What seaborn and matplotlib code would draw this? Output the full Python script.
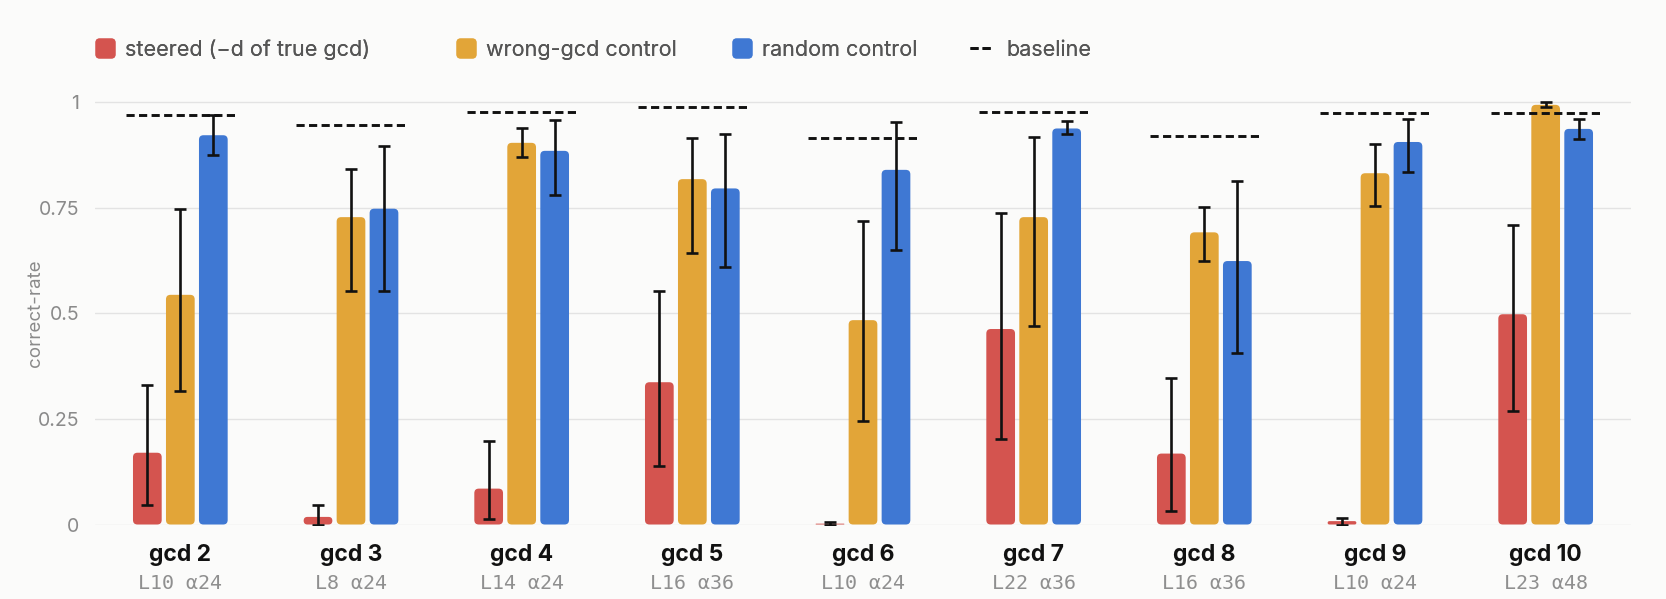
import numpy as np
import pandas as pd
import matplotlib
matplotlib.use("Agg")
import matplotlib.pyplot as plt
import seaborn as sns
from matplotlib.patches import FancyBboxPatch
from matplotlib.lines import Line2D

# ---------------- data ----------------
gcd_labels = ["gcd 2", "gcd 3", "gcd 4", "gcd 5", "gcd 6", "gcd 7", "gcd 8", "gcd 9", "gcd 10"]
config_labels = ["L10 α24", "L8 α24", "L14 α24", "L16 α36", "L10 α24",
                 "L22 α36", "L16 α36", "L10 α24", "L23 α48"]
series_names = ["steered (−d of true gcd)", "wrong-gcd control", "random control"]
baseline_name = "baseline"

steered = [0.170, 0.018, 0.085, 0.337, 0.002, 0.463, 0.168, 0.008, 0.498]
steered_lo = [0.046, 0.000, 0.012, 0.138, 0.000, 0.203, 0.032, 0.000, 0.270]
steered_hi = [0.330, 0.046, 0.198, 0.552, 0.007, 0.737, 0.346, 0.015, 0.709]

wrong = [0.544, 0.728, 0.904, 0.818, 0.484, 0.728, 0.692, 0.832, 0.994]
wrong_lo = [0.317, 0.552, 0.870, 0.644, 0.244, 0.470, 0.623, 0.754, 0.988]
wrong_hi = [0.747, 0.842, 0.938, 0.915, 0.719, 0.917, 0.752, 0.901, 1.000]

random_ctl = [0.922, 0.748, 0.885, 0.796, 0.840, 0.938, 0.624, 0.906, 0.937]
random_lo = [0.874, 0.552, 0.780, 0.611, 0.650, 0.924, 0.407, 0.835, 0.913]
random_hi = [0.971, 0.896, 0.959, 0.925, 0.954, 0.956, 0.814, 0.961, 0.960]

baseline = [0.971, 0.947, 0.978, 0.988, 0.915, 0.978, 0.919, 0.975, 0.975]

ytick_values = [0, 0.25, 0.5, 0.75, 1]
ytick_labels = ["0", "0.25", "0.5", "0.75", "1"]
y_label = "correct-rate"

# ---------------- style ----------------
colors = ["#d4544f", "#e2a538", "#3f78d3"]
BG = "#fbfbfa"
GRID = "#e3e3e3"
INK = "#111111"
FIG_W, FIG_H = 1666, 599

sns.set_theme(style="whitegrid")
plt.rcParams["font.family"] = ["Inter", "DejaVu Sans"]

df = pd.DataFrame({
    "gcd": gcd_labels * 3,
    "series": np.repeat(series_names, len(gcd_labels)),
    "rate": steered + wrong + random_ctl,
})

fig = plt.figure(figsize=(FIG_W / 100, FIG_H / 100), dpi=100, facecolor=BG)
ax = fig.add_axes([0.05702, 0.12437, 0.92197, 0.72600])
ax.set_facecolor(BG)

sns.barplot(data=df, x="gcd", y="rate", hue="series", order=gcd_labels,
            hue_order=series_names, palette=colors, saturation=1,
            width=0.58, gap=0.13, errorbar=None, legend=False, ax=ax)

ax.set_xlim(-0.5, len(gcd_labels) - 0.5)
ax.set_ylim(0, 1.03)

# pixel scale for rounded corners
p0 = ax.transData.transform((0, 0))
px_x = ax.transData.transform((1, 0))[0] - p0[0]
px_y = ax.transData.transform((0, 1))[1] - p0[1]
aspect = px_x / px_y
radius_px = 4.5

lows = [steered_lo, wrong_lo, random_lo]
highs = [steered_hi, wrong_hi, random_hi]
vals_all = [steered, wrong, random_ctl]

for cont, vals, lo, hi in zip(ax.containers, vals_all, lows, highs):
    xs = []
    for p in cont.patches:
        x, y, w, h = p.get_x(), p.get_y(), p.get_width(), p.get_height()
        xs.append(x + w / 2)
        r = min(radius_px / px_x, w / 2, h / (2 * aspect)) if h > 0 else 0
        fb = FancyBboxPatch((x, y), w, h,
                            boxstyle=f"round,pad=0,rounding_size={r}",
                            mutation_aspect=aspect, facecolor=p.get_facecolor(),
                            edgecolor="none", linewidth=0, zorder=2)
        p.set_visible(False)
        ax.add_patch(fb)
    v = np.array(vals)
    yerr = [v - np.array(lo), np.array(hi) - v]
    ax.errorbar(xs, v, yerr=yerr, fmt="none", ecolor=INK, elinewidth=1.9,
                capsize=4.6, capthick=1.9, zorder=4)

pos = np.arange(len(gcd_labels))
ax.hlines(baseline, pos - 0.32, pos + 0.32, colors=INK,
          linestyles=(0, (2.8, 1.5)), linewidth=2.1, zorder=5)

# axes styling
for s in ax.spines.values():
    s.set_visible(False)
ax.set_axisbelow(True)
ax.grid(axis="y", color=GRID, linewidth=1.0)
ax.grid(axis="x", visible=False)
ax.set_yticks(ytick_values)
ax.set_yticklabels(ytick_labels)
ax.tick_params(axis="y", length=0, pad=11.5, labelsize=14, labelcolor="#8a8a8a")
ax.tick_params(axis="x", length=0, pad=26.0, labelsize=16.5, labelcolor=INK)
for lbl in ax.get_xticklabels():
    lbl.set_fontweight("bold")
    lbl.set_va("baseline")
ax.set_xlabel("")
ax.set_ylabel(y_label, fontsize=13.5, color="#8a8a8a")
ax.yaxis.set_label_coords(-0.0332, 0.5 / 1.03)

for i, s in enumerate(config_labels):
    ax.annotate(s, xy=(i, 0), xycoords=("data", "axes fraction"),
                xytext=(0, -46.2), textcoords="offset points", ha="center",
                va="baseline", family="DejaVu Sans Mono", fontsize=14.4,
                color="#8f8f8f")

# legend (one entry per block, placed like the reference)
rpath = FancyBboxPatch((-0.5, -0.5), 1, 1, boxstyle="round,pad=0,rounding_size=0.2").get_path()
handles = [Line2D([], [], ls="none", marker=rpath, markersize=14.4,
                  markerfacecolor=c, markeredgecolor="none") for c in colors]
handles.append(Line2D([], [], color=INK, lw=2.0, ls=(0, (2.9, 1.45))))
labels = series_names + [baseline_name]
left_px = [94, 455, 731, 970]
textpads = [0.45, 0.45, 0.45, 0.7]
for h, lab, lx, tp in zip(handles, labels, left_px, textpads):
    leg = fig.legend([h], [lab], loc="upper left",
                     bbox_to_anchor=(lx / FIG_W, 1 - 39.5 / FIG_H), frameon=False,
                     fontsize=15.5, handlelength=1.0, handletextpad=tp,
                     borderpad=0, borderaxespad=0, labelcolor="#555555")
    fig.add_artist(leg)

fig.savefig("out.png", dpi=100, facecolor=BG)
